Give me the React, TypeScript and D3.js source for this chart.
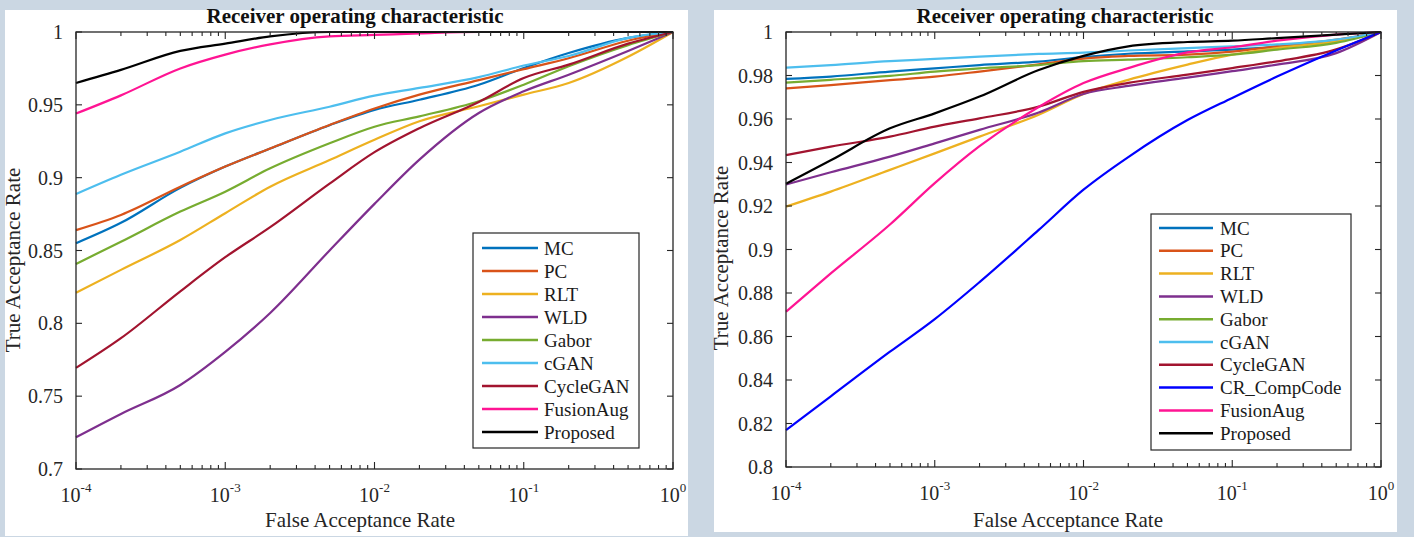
import * as d3 from "d3";

// shared false-acceptance-rate grid (x values of every curve)
const FAR = [1e-4, 2e-4, 5e-4, 1e-3, 2e-3, 5e-3, 1e-2, 2e-2, 5e-2, 1e-1, 2e-1, 5e-1, 1];

// ---- left chart (TAR at each FAR) ----
const leftMC = [0.855, 0.869, 0.893, 0.9076, 0.92, 0.936, 0.9465, 0.9535, 0.9638, 0.9753, 0.9856, 0.996, 1];
const leftPC = [0.864, 0.8744, 0.8938, 0.9076, 0.92, 0.9362, 0.9475, 0.957, 0.967, 0.9745, 0.982, 0.994, 1];
const leftRLT = [0.821, 0.8367, 0.8572, 0.8756, 0.8938, 0.9121, 0.926, 0.9387, 0.949, 0.957, 0.965, 0.983, 1];
const leftWLD = [0.7218, 0.7378, 0.7577, 0.7804, 0.8071, 0.85, 0.882, 0.9124, 0.9444, 0.9593, 0.9707, 0.987, 1];
const leftGabor = [0.8408, 0.856, 0.8767, 0.8904, 0.9064, 0.9236, 0.935, 0.9421, 0.9525, 0.9638, 0.9765, 0.991, 1];
const leftCGAN = [0.8888, 0.902, 0.9178, 0.9304, 0.9396, 0.9487, 0.9563, 0.9616, 0.969, 0.977, 0.9835, 0.996, 1];
const leftCycleGAN = [0.7694, 0.7898, 0.822, 0.8454, 0.866, 0.8959, 0.9175, 0.934, 0.952, 0.9684, 0.9776, 0.992, 1];
const leftFusionAug = [0.944, 0.9565, 0.975, 0.9845, 0.9915, 0.997, 0.998, 0.999, 1, 1, 1, 1, 1];
const leftProposed = [0.965, 0.974, 0.987, 0.992, 0.997, 1, 1, 1, 1, 1, 1, 1, 1];

// ---- right chart ----
const rightMC = [0.9784, 0.9795, 0.9818, 0.9833, 0.9848, 0.9864, 0.9885, 0.99, 0.9911, 0.9919, 0.9932, 0.996, 1];
const rightPC = [0.9741, 0.9756, 0.9779, 0.9795, 0.9818, 0.9851, 0.9878, 0.989, 0.9896, 0.991, 0.9935, 0.9965, 1];
const rightRLT = [0.9197, 0.9266, 0.9366, 0.9442, 0.9519, 0.962, 0.9715, 0.978, 0.985, 0.9896, 0.9926, 0.9957, 1];
const rightWLD = [0.9299, 0.9355, 0.9427, 0.9488, 0.955, 0.963, 0.9715, 0.9752, 0.979, 0.982, 0.985, 0.9903, 1];
const rightGabor = [0.9767, 0.978, 0.9798, 0.9818, 0.9833, 0.9848, 0.9866, 0.9873, 0.9884, 0.9896, 0.9919, 0.995, 1];
const rightCGAN = [0.9836, 0.9848, 0.9866, 0.9876, 0.9887, 0.9899, 0.9905, 0.9915, 0.9926, 0.9934, 0.9943, 0.9965, 1];
const rightCycleGAN = [0.9434, 0.9473, 0.9519, 0.9565, 0.9603, 0.9657, 0.9725, 0.9766, 0.9804, 0.9834, 0.9865, 0.992, 1];
const rightCRCompCode = [0.817, 0.8325, 0.853, 0.868, 0.885, 0.909, 0.9275, 0.9425, 0.9595, 0.9697, 0.9795, 0.9915, 1];
const rightFusionAug = [0.8714, 0.889, 0.9115, 0.9305, 0.9475, 0.9655, 0.9765, 0.9834, 0.9906, 0.993, 0.996, 0.9988, 1];
const rightProposed = [0.9302, 0.941, 0.9557, 0.9626, 0.9703, 0.9825, 0.989, 0.9934, 0.9954, 0.996, 0.9972, 0.9988, 1];

const leftYTicks = [0.7, 0.75, 0.8, 0.85, 0.9, 0.95, 1];
const leftYLabels = ["0.7", "0.75", "0.8", "0.85", "0.9", "0.95", "1"];
const rightYTicks = [0.8, 0.82, 0.84, 0.86, 0.88, 0.9, 0.92, 0.94, 0.96, 0.98, 1];
const rightYLabels = ["0.8", "0.82", "0.84", "0.86", "0.88", "0.9", "0.92", "0.94", "0.96", "0.98", "1"];
const xTickExponents = [-4, -3, -2, -1, 0];

const COLORS: Record<string, string> = {
  MC: "#0072BD",
  PC: "#D95319",
  RLT: "#EDB120",
  WLD: "#7E2F8E",
  Gabor: "#77AC30",
  cGAN: "#4DBEEE",
  CycleGAN: "#A2142F",
  CR_CompCode: "#0000FF",
  FusionAug: "#FF1493",
  Proposed: "#000000",
};

const leftSeries = [
  { name: "MC", values: leftMC },
  { name: "PC", values: leftPC },
  { name: "RLT", values: leftRLT },
  { name: "WLD", values: leftWLD },
  { name: "Gabor", values: leftGabor },
  { name: "cGAN", values: leftCGAN },
  { name: "CycleGAN", values: leftCycleGAN },
  { name: "FusionAug", values: leftFusionAug },
  { name: "Proposed", values: leftProposed },
];

const rightSeries = [
  { name: "MC", values: rightMC },
  { name: "PC", values: rightPC },
  { name: "RLT", values: rightRLT },
  { name: "WLD", values: rightWLD },
  { name: "Gabor", values: rightGabor },
  { name: "cGAN", values: rightCGAN },
  { name: "CycleGAN", values: rightCycleGAN },
  { name: "CR_CompCode", values: rightCRCompCode },
  { name: "FusionAug", values: rightFusionAug },
  { name: "Proposed", values: rightProposed },
];

const FONT = "'Liberation Serif', 'Times New Roman', serif";
const AXIS = "#262626";

function Panel({ frame, plot, yTicks, yLabels, series, legend, titleX, xLabelX, yLabelX, yLabelY }: any) {
  const x = d3.scaleLog().domain([1e-4, 1]).range([plot.left, plot.right]);
  const y = d3.scaleLinear().domain([yTicks[0], 1]).range([plot.bottom, plot.top]);
  const line = d3
    .line<number>()
    .x((_, i) => x(FAR[i]))
    .y((d) => y(d))
    .curve(d3.curveMonotoneX);

  const xTicks = x.ticks();
  const isMajor = (t: number) => Math.abs(Math.log10(t) - Math.round(Math.log10(t))) < 1e-9;

  return (
    <g>
      <rect x={frame.x} y={frame.y} width={frame.w} height={frame.h} fill="#fff" />
      <text x={titleX} y={23} textAnchor="middle" fontFamily={FONT} fontWeight="bold" fontSize={21} fill="#111">
        Receiver operating characteristic
      </text>

      {/* curves */}
      {series.map((s: any) => (
        <path key={s.name} d={line(s.values) || ""} fill="none" stroke={COLORS[s.name]} strokeWidth={2.2} />
      ))}

      {/* box */}
      <rect
        x={plot.left}
        y={plot.top}
        width={plot.right - plot.left}
        height={plot.bottom - plot.top}
        fill="none"
        stroke={AXIS}
        strokeWidth={1.3}
      />

      {/* x ticks top and bottom, inward */}
      {xTicks.map((t, i) => {
        const len = isMajor(t) ? 7 : 4;
        const px = x(t);
        return (
          <g key={i} stroke={AXIS} strokeWidth={1.1}>
            <line x1={px} x2={px} y1={plot.bottom} y2={plot.bottom - len} />
            <line x1={px} x2={px} y1={plot.top} y2={plot.top + len} />
          </g>
        );
      })}
      {xTickExponents.map((e) => (
        <text key={e} x={x(Math.pow(10, e))} y={plot.bottom + 33} textAnchor="middle" fontFamily={FONT} fontSize={20} fill={AXIS}>
          10
          <tspan dy={-10} fontSize={13}>
            {e === 0 ? "0" : "-" + Math.abs(e)}
          </tspan>
        </text>
      ))}

      {/* y ticks left and right, inward */}
      {yTicks.map((t: number, i: number) => (
        <g key={i}>
          <line x1={plot.left} x2={plot.left + 6} y1={y(t)} y2={y(t)} stroke={AXIS} strokeWidth={1.1} />
          <line x1={plot.right} x2={plot.right - 6} y1={y(t)} y2={y(t)} stroke={AXIS} strokeWidth={1.1} />
          <text x={plot.left - 13} y={y(t)} dy="0.35em" textAnchor="end" fontFamily={FONT} fontSize={20} fill={AXIS}>
            {yLabels[i]}
          </text>
        </g>
      ))}

      <text x={xLabelX} y={527} textAnchor="middle" fontFamily={FONT} fontSize={21} fill={AXIS}>
        False Acceptance Rate
      </text>
      <text
        transform={`translate(${yLabelX},${yLabelY}) rotate(-90)`}
        textAnchor="middle"
        fontFamily={FONT}
        fontSize={21}
        fill={AXIS}
      >
        True Acceptance Rate
      </text>

      {/* legend */}
      <rect x={legend.x} y={legend.y} width={legend.w} height={legend.h} fill="#fff" stroke={AXIS} strokeWidth={1.2} />
      {series.map((s: any, i: number) => {
        const ly = legend.row0 + i * legend.step;
        return (
          <g key={s.name}>
            <line x1={legend.line0} x2={legend.line1} y1={ly} y2={ly} stroke={COLORS[s.name]} strokeWidth={2.5} />
            <text x={legend.textX} y={ly} dy="0.35em" fontFamily={FONT} fontSize={19} fill="#1a1a1a">
              {s.name}
            </text>
          </g>
        );
      })}
    </g>
  );
}

export default function App() {
  return (
    <div style={{ position: "fixed", left: 0, top: 0 }}>
      <svg width={1414} height={537} style={{ display: "block" }}>
        <rect x={0} y={0} width={1414} height={537} fill="#CBD7E3" />
        <Panel
          frame={{ x: 5, y: 10, w: 683, h: 526 }}
          plot={{ left: 76, right: 673, top: 32, bottom: 469 }}
          yTicks={leftYTicks}
          yLabels={leftYLabels}
          series={leftSeries}
          legend={{ x: 473, y: 233, w: 166, h: 215, row0: 248, step: 23, line0: 482, line1: 538, textX: 544 }}
          titleX={355}
          xLabelX={360}
          yLabelX={20}
          yLabelY={260}
        />
        <Panel
          frame={{ x: 714, y: 10, w: 683, h: 522 }}
          plot={{ left: 786, right: 1381, top: 32, bottom: 467 }}
          yTicks={rightYTicks}
          yLabels={rightYLabels}
          series={rightSeries}
          legend={{ x: 1151, y: 214, w: 200, h: 236, row0: 228, step: 22.8, line0: 1159, line1: 1213, textX: 1220 }}
          titleX={1065}
          xLabelX={1068}
          yLabelX={728}
          yLabelY={258}
        />
      </svg>
    </div>
  );
}
